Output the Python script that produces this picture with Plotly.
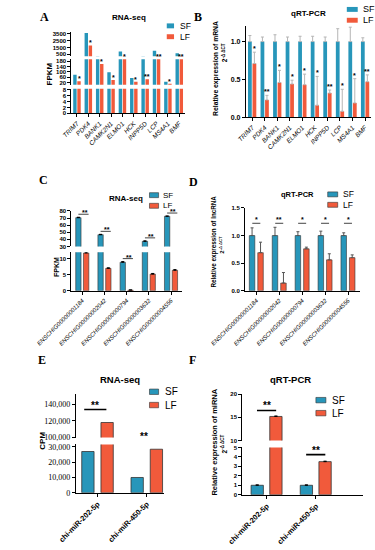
import plotly.graph_objects as go

W, H = 375, 550
SF_COLOR = "#2796BA"
LF_COLOR = "#F15A3B"
EDGE = "#333333"
SANS = "Liberation Sans, Arial, sans-serif"
SERIF = "Liberation Serif, Times New Roman, serif"

# ---------------- data ----------------
genes = ["TRIM7", "PDK4", "BANK1", "CAMK2N1", "ELMO1", "HCK", "INPP5D", "LCP", "MS4A1", "BMF"]
a_sf = [80, 3600, 215, 98, 900, 56, 215, 1040, 27, 660]
a_lf = [32, 1800, 160, 40, 210, 27, 47, 210, 12, 210]
a_sig = ["*", "*", "*", "*", "*", "*", "**", "**", "*", "**"]

b_sf = [1.0, 1.0, 1.0, 1.0, 1.0, 1.0, 1.0, 1.0, 1.0, 1.0]
b_sf_err = [0.08, 0.06, 0.09, 0.06, 0.07, 0.07, 0.06, 0.17, 0.19, 0.05]
b_lf = [0.71, 0.23, 0.46, 0.44, 0.43, 0.16, 0.32, 0.08, 0.19, 0.47]
b_lf_err = [0.15, 0.06, 0.16, 0.05, 0.14, 0.38, 0.04, 0.29, 0.32, 0.09]
b_sig = ["*", "**", "*", "*", "*", "*", "**", "*", "*", "**"]

lncrnas = ["ENSCHIG00000001184", "ENSCHIG00000002042", "ENSCHIG00000000794",
           "ENSCHIG00000003632", "ENSCHIG00000004556"]
c_sf = [70.5, 46.5, 8.9, 37.2, 72.5]
c_sf_err = [0.6, 0.5, 0.2, 0.6, 0.3]
c_lf = [11.8, 7.0, 0.2, 5.2, 6.4]
c_lf_err = [0.3, 0.15, 0.05, 0.2, 0.2]
c_sig = ["**", "**", "**", "**", "**"]

d_sf = [1.0, 1.0, 1.0, 1.0, 1.0]
d_sf_err = [0.14, 0.15, 0.07, 0.08, 0.05]
d_lf = [0.69, 0.14, 0.76, 0.56, 0.60]
d_lf_err = [0.19, 0.19, 0.03, 0.11, 0.05]
d_sig = ["*", "**", "*", "*", "*"]

mirnas = ["chi-miR-202-5p", "chi-miR-450-5p"]
e_sf = [27000, 10000]
e_lf = [118000, 28500]
e_sig = ["**", "**"]

f_sf = [1.0, 1.0]
f_sf_err = [0.04, 0.04]
f_lf = [15.2, 3.5]
f_lf_err = [0.1, 0.05]
f_sig = ["**", "**"]

# ---------------- helpers ----------------
fig = go.Figure()
LAYOUT = {}
shapes = []
annotations = []
counter = [0]


def add_axes(xpx, ypx, xr, yr, ytickvals, yticktext=None, yfont=None,
             xcats=None, xfont=None, italic=False, show_x=False):
    counter[0] += 1
    i = counter[0]
    s = "" if i == 1 else str(i)
    xa = dict(domain=[xpx[0] / W, xpx[1] / W], range=xr, anchor="y" + s,
              showgrid=False, zeroline=False, fixedrange=True)
    if show_x:
        xa.update(showline=True, linecolor="black", linewidth=1, ticks="outside",
                  ticklen=3, tickwidth=1, tickcolor="black", tickmode="array",
                  tickvals=list(range(len(xcats))),
                  ticktext=[("<i>%s</i>" % c) if italic else c for c in xcats],
                  tickangle=-45, tickfont=xfont)
    else:
        xa.update(visible=False)
    if yticktext is None:
        yticktext = [str(v) for v in ytickvals]
    ya = dict(domain=[1 - ypx[1] / H, 1 - ypx[0] / H], range=yr, anchor="x" + s,
              showline=True, linecolor="black", linewidth=1, ticks="outside",
              ticklen=3, tickwidth=1, tickcolor="black", tickmode="array",
              tickvals=ytickvals, ticktext=yticktext, tickfont=yfont,
              showgrid=False, zeroline=False, fixedrange=True)
    LAYOUT["xaxis" + s] = xa
    LAYOUT["yaxis" + s] = ya
    return ("x" + s, "y" + s, yr)


def add_bars(ax, vals, color, offset, width, err=None, errcolor="black",
             edge=0.0, capw=1.5):
    kw = {}
    if err is not None:
        kw["error_y"] = dict(type="data", array=err, arrayminus=[0] * len(err),
                             symmetric=False, color=errcolor, thickness=1, width=capw)
    fig.add_trace(go.Bar(x=list(range(len(vals))), y=vals, xaxis=ax[0], yaxis=ax[1],
                         offset=offset, width=width,
                         marker=dict(color=color, line=dict(color=EDGE, width=edge)),
                         showlegend=False, hoverinfo="skip", **kw))


def text(x, y, s, size, family=SANS, bold=True, angle=0, xanchor="center",
         yanchor="middle", color="black"):
    annotations.append(dict(x=x / W, y=1 - y / H, xref="paper", yref="paper", text=s,
                            showarrow=False, textangle=angle, xanchor=xanchor,
                            yanchor=yanchor,
                            font=dict(family=family, size=size, color=color,
                                      weight="bold" if bold else "normal")))


def legend(xbox, ysf, ylf, h, xtext, size, edge):
    for yc, col, lab in ((ysf, SF_COLOR, "SF"), (ylf, LF_COLOR, "LF")):
        shapes.append(dict(type="rect", xref="paper", yref="paper",
                           x0=xbox[0] / W, x1=xbox[1] / W,
                           y0=1 - (yc + h / 2) / H, y1=1 - (yc - h / 2) / H,
                           fillcolor=col, line=dict(color=EDGE, width=edge)))
        text(xtext, yc, lab, size, bold=False, xanchor="left")


def seg_for(v, segs):
    for sg in segs:
        if sg[2][0] <= v <= sg[2][1]:
            return sg
    best = segs[-1]
    for sg in segs:
        if v >= sg[2][0]:
            best = sg
    return best


def sig_mark(ax, x, y, s, size, yshift=0):
    annotations.append(dict(x=x, y=y, xref=ax[0], yref=ax[1], text=s, showarrow=False,
                            yanchor="bottom", yshift=yshift, borderpad=0,
                            font=dict(family=SANS, size=size, color="black",
                                      weight="bold")))


def sig_line(ax, xa, xb, y, pix, width=1, color="black"):
    shapes.append(dict(type="line", xref=ax[0], yref=ax[1], x0=xa, x1=xb,
                       ysizemode="pixel", yanchor=y, y0=pix, y1=pix,
                       line=dict(color=color, width=width)))


TF = dict(family=SANS, size=6, color="black", weight="bold")

# ---------------- Panel A ----------------
AX = (41, 166)
axA_top = add_axes(AX, (29, 54), [-0.5, 9.5], [230, 3800], [500, 1500, 2500, 3500], yfont=TF)
axA_mid = add_axes(AX, (57, 83), [-0.5, 9.5], [5, 195], [20, 60, 100, 140, 180], yfont=TF)
axA_bot = add_axes(AX, (87, 112), [-0.5, 9.5], [0, 8.3], [0, 2, 4, 6, 8], yfont=TF,
                   xcats=genes, xfont=dict(family=SANS, size=6.5, color="black"),
                   italic=True, show_x=True)
BW_A, SF_OFF_A, LF_OFF_A = 0.3, -0.33, 0.03
for ax in (axA_top, axA_mid, axA_bot):
    add_bars(ax, a_sf, SF_COLOR, SF_OFF_A, BW_A)
    add_bars(ax, a_lf, LF_COLOR, LF_OFF_A, BW_A)
for i, v in enumerate(a_lf):
    if v >= axA_top[2][0]:
        sig_mark(axA_top, i + LF_OFF_A + BW_A / 2, v, a_sig[i], 7, -2)
    else:
        sig_mark(axA_mid, i + LF_OFF_A + BW_A / 2, min(v, axA_mid[2][1]), a_sig[i], 7, -2)
text(11, 14, "A", 12, family=SERIF)
text(105, 15, "RNA-seq", 8)
legend((146, 154), 23.2, 34.2, 5, 158, 8.5, 0)
text(17, 72, "FPKM", 8, angle=-90)

# ---------------- Panel B ----------------
axB = add_axes((233, 371), (23, 116), [-0.5, 9.5], [0, 1.21], [0, 0.5, 1.0],
               ["0.0", "0.5", "1.0"], yfont=dict(family=SANS, size=7, color="black", weight="bold"),
               xcats=genes, xfont=dict(family=SANS, size=6.5, color="black"),
               italic=True, show_x=True)
BW_B = 0.3
add_bars(axB, b_sf, SF_COLOR, -0.33, BW_B, err=b_sf_err, errcolor="#b5b5b5")
add_bars(axB, b_lf, LF_COLOR, 0.03, BW_B, err=b_lf_err, errcolor="#b5b5b5")
for i in range(len(b_lf)):
    sig_mark(axB, i + 0.03 + BW_B / 2, b_lf[i] + b_lf_err[i], b_sig[i], 7, -1)
text(180, 14, "B", 12, family=SERIF)
text(302, 11, "qRT-PCR", 8)
legend((344, 356), 6.5, 17.5, 5, 360, 9, 0)
text(200, 66, "Relative expression of mRNA", 6.8, angle=-90)
text(210, 50, "2<sup>-Δ ΔCT</sup>", 6.5, angle=-90)

# ---------------- Panel C ----------------
CX = (41, 163)
axC_top = add_axes(CX, (211, 247), [-0.5, 4.5], [30, 80], [30, 40, 50, 60, 70, 80], yfont=TF)
axC_bot = add_axes(CX, (253, 292), [-0.5, 4.5], [0, 12], [0, 5, 10], yfont=TF,
                   xcats=lncrnas, xfont=dict(family=SANS, size=6, color="black"),
                   italic=True, show_x=True)
BW_C = 0.24
for ax in (axC_top, axC_bot):
    add_bars(ax, c_sf, SF_COLOR, -0.3, BW_C, err=c_sf_err, edge=0.6, capw=1.5)
    add_bars(ax, c_lf, LF_COLOR, 0.05, BW_C, err=c_lf_err, edge=0.6, capw=1.5)
for i in range(len(c_sf)):
    top = max(c_sf[i] + c_sf_err[i], c_lf[i] + c_lf_err[i])
    sg = seg_for(top, [axC_bot, axC_top])
    sig_line(sg, i - 0.18, i + 0.28, top, 3, width=1, color="#444444")
    sig_mark(sg, i + 0.1, top, c_sig[i], 7, 0)
text(10, 180, "C", 12, family=SERIF)
text(101, 198, "RNA-seq", 8)
legend((127, 137), 195, 205.8, 5, 140, 8, 0.6)
text(24, 268, "FPKM", 7, angle=-90)

# ---------------- Panel D ----------------
axD = add_axes((232, 358), (208, 292), [-0.5, 4.5], [0, 1.5], [0, 0.5, 1.0, 1.5],
               ["0.0", "0.5", "1.0", "1.5"], yfont=TF,
               xcats=lncrnas, xfont=dict(family=SANS, size=6, color="black"),
               italic=True, show_x=True)
BW_D = 0.24
add_bars(axD, d_sf, SF_COLOR, -0.31, BW_D, err=d_sf_err, errcolor="#555555", edge=0.6)
add_bars(axD, d_lf, LF_COLOR, 0.06, BW_D, err=d_lf_err, errcolor="#555555", edge=0.6)
d_top = max(max(a + b for a, b in zip(d_sf, d_sf_err)), max(a + b for a, b in zip(d_lf, d_lf_err)))
for i in range(len(d_sf)):
    sig_line(axD, i - 0.18, i + 0.17, d_top, 4, width=1, color="#444444")
    sig_mark(axD, i, d_top, d_sig[i], 7, 3)
text(175, 182, "D", 12, family=SERIF)
text(290, 194, "qRT-PCR", 7.5)
legend((323, 334), 194.2, 204.8, 5, 338, 8.5, 0.6)
text(199, 242, "Relative expression of lncRNA", 6.3, angle=-90)
text(207, 245, "2<sup>-Δ ΔCT</sup>", 6, angle=-90)

# ---------------- Panel E ----------------
EX = (46, 143)
EF = dict(family=SERIF, size=8, color="black")
axE_top = add_axes(EX, (397, 441), [-0.44, 1.35], [100000, 151800],
                   [100000, 120000, 140000], ["100,000", "120,000", "140,000"], yfont=EF)
axE_bot = add_axes(EX, (448, 497), [-0.44, 1.35], [0, 31600],
                   [0, 10000, 20000, 30000], ["0", "10,000", "20,000", "30,000"], yfont=EF,
                   xcats=mirnas, xfont=dict(family=SANS, size=7.5, color="black", weight="bold"),
                   show_x=True)
BW_E = 0.25
for ax in (axE_top, axE_bot):
    add_bars(ax, e_sf, SF_COLOR, -0.32, BW_E, edge=0.8)
    add_bars(ax, e_lf, LF_COLOR, 0.07, BW_E, edge=0.8)
e_pix = [13, 8]
for i in range(len(e_sf)):
    top = max(e_sf[i], e_lf[i])
    sg = seg_for(top, [axE_bot, axE_top])
    sig_line(sg, i - 0.27, i + 0.18, top, e_pix[i], width=1.6)
    sig_mark(sg, i - 0.05, top, e_sig[i], 10, e_pix[i] - 2)
text(9, 362, "E", 12, family=SERIF)
text(95, 382, "RNA-seq", 9.5)
legend((127, 137), 394.5, 408, 5.5, 141.5, 10, 0.6)
text(9, 444, "CPM", 8, angle=-90)

# ---------------- Panel F ----------------
FX = (229, 362)
axF_top = add_axes(FX, (397, 444), [-0.5, 1.96], [10, 20], [10, 15, 20], yfont=TF)
axF_bot = add_axes(FX, (451, 499), [-0.5, 1.96], [0, 5], [0, 1, 2, 3, 4, 5], yfont=TF,
                   xcats=mirnas, xfont=dict(family=SANS, size=7.5, color="black", weight="bold"),
                   show_x=True)
BW_F = 0.25
for ax in (axF_top, axF_bot):
    add_bars(ax, f_sf, SF_COLOR, -0.32, BW_F, err=f_sf_err, edge=0.8)
    add_bars(ax, f_lf, LF_COLOR, 0.06, BW_F, err=f_lf_err, edge=0.8)
f_pix = [6, 7]
for i in range(len(f_sf)):
    top = max(f_sf[i], f_lf[i])
    sg = seg_for(top, [axF_bot, axF_top])
    sig_line(sg, i - 0.2, i + 0.19, top, f_pix[i], width=1.6)
    sig_mark(sg, i, top, f_sig[i], 10, f_pix[i] - 2)
text(174, 362, "F", 12, family=SERIF)
text(282, 382, "qRT-PCR", 9.5)
legend((310, 321), 403, 416.2, 5.5, 325, 10, 0.6)
text(198, 446, "Relative expression of miRNA", 7.5, angle=-90)
text(210, 447, "2<sup>-Δ ΔCT</sup>", 6.5, angle=-90)

fig.update_layout(width=W, height=H, margin=dict(l=0, r=0, t=0, b=0), autosize=False,
                  paper_bgcolor="white", plot_bgcolor="white", barmode="overlay",
                  showlegend=False, shapes=shapes, annotations=annotations,
                  font=dict(family=SANS, color="black"), **LAYOUT)
fig.write_html("out.html", config={"displayModeBar": False},
               post_script="document.body.style.margin='0';document.body.style.overflow='hidden';")
